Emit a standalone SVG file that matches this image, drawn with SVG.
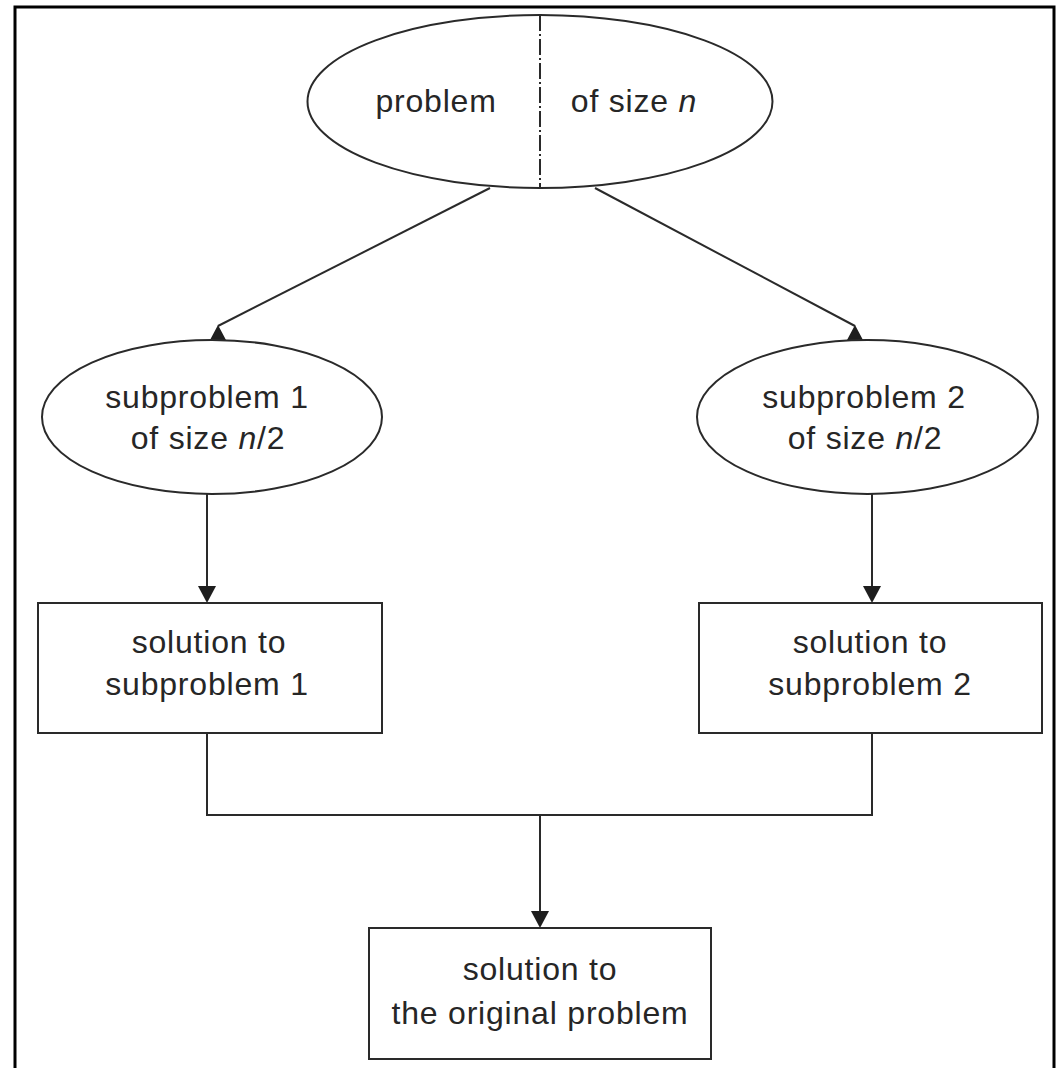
<svg xmlns="http://www.w3.org/2000/svg" width="1061" height="1068" viewBox="0 0 1061 1068">
<style>
  .shape { fill: #ffffff; stroke: #2a2a2a; stroke-width: 2; }
  .line { fill: none; stroke: #2a2a2a; stroke-width: 2; }
  .head { fill: #1e1e1e; stroke: none; }
  .lbl { font-family: "Liberation Sans", Arial, Helvetica, sans-serif; font-size: 32px; letter-spacing: 0.8px; fill: #262626; text-anchor: middle; }
  .it { font-style: italic; }
</style>
<rect x="0" y="0" width="1061" height="1068" fill="#ffffff"/>
<path d="M15,1068 V7 H1054 V1068" fill="none" stroke="#000000" stroke-width="3"/>

<g id="connectors">
  <line class="line" x1="490" y1="188" x2="218" y2="326"/>
  <polygon class="head" points="218,325 210,340 226,340"/>
  <line class="line" x1="595" y1="188" x2="855" y2="326"/>
  <polygon class="head" points="855,325 847,340 863,340"/>
  <line class="line" x1="207" y1="494" x2="207" y2="588"/>
  <polygon class="head" points="198,586 216,586 207,603"/>
  <line class="line" x1="872" y1="494" x2="872" y2="588"/>
  <polygon class="head" points="863,586 881,586 872,603"/>
  <polyline class="line" points="207,733 207,815 872,815 872,733"/>
  <line class="line" x1="540" y1="815" x2="540" y2="913"/>
  <polygon class="head" points="531,911 549,911 540,928"/>
</g>

<g id="problem">
  <ellipse class="shape" cx="540" cy="101.5" rx="232.5" ry="86.5"/>
  <line class="line" x1="540" y1="15" x2="540" y2="188" stroke-dasharray="16 3 2 3"/>
  <text class="lbl" x="436" y="112">problem</text>
  <text class="lbl" x="634" y="112">of size <tspan class="it">n</tspan></text>
</g>

<g id="subproblem1">
  <ellipse class="shape" cx="212" cy="417" rx="170" ry="77"/>
  <text class="lbl" x="207" y="408">subproblem 1</text>
  <text class="lbl" x="208" y="449">of size <tspan class="it">n</tspan>/2</text>
</g>

<g id="subproblem2">
  <ellipse class="shape" cx="867.5" cy="417" rx="170.5" ry="77"/>
  <text class="lbl" x="864" y="408">subproblem 2</text>
  <text class="lbl" x="865" y="449">of size <tspan class="it">n</tspan>/2</text>
</g>

<g id="solution1">
  <rect class="shape" x="38" y="603" width="344" height="130"/>
  <text class="lbl" x="209" y="653">solution to</text>
  <text class="lbl" x="207" y="695">subproblem 1</text>
</g>

<g id="solution2">
  <rect class="shape" x="699" y="603" width="343" height="130"/>
  <text class="lbl" x="870" y="653">solution to</text>
  <text class="lbl" x="870" y="695">subproblem 2</text>
</g>

<g id="solution">
  <rect class="shape" x="369" y="928" width="342" height="131"/>
  <text class="lbl" x="540" y="980">solution to</text>
  <text class="lbl" x="540" y="1024">the original problem</text>
</g>
</svg>
